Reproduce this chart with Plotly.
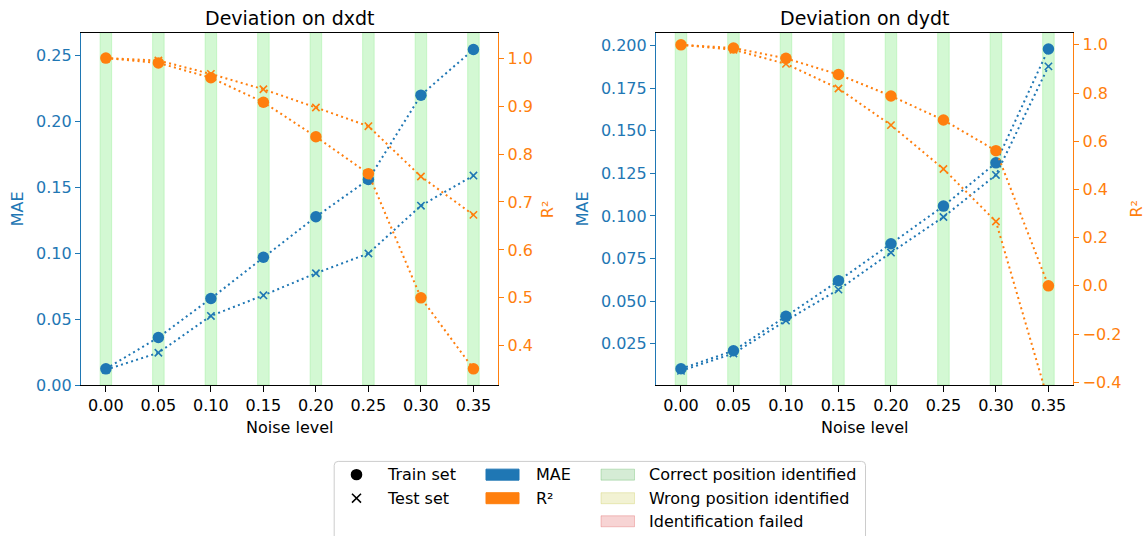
import plotly.graph_objects as go

W, H = 1148, 546

# ---- data -------------------------------------------------------------
noise = [0.00, 0.05, 0.10, 0.15, 0.20, 0.25, 0.30, 0.35]
noise_labels = ["0.00", "0.05", "0.10", "0.15", "0.20", "0.25", "0.30", "0.35"]

dxdt_mae_train = [0.0123, 0.0361, 0.0656, 0.0968, 0.1275, 0.1557, 0.2196, 0.2542]
dxdt_mae_test = [0.0116, 0.0245, 0.0524, 0.0680, 0.0847, 0.0997, 0.1359, 0.1587]
dxdt_r2_train = [1.000, 0.990, 0.959, 0.908, 0.836, 0.759, 0.500, 0.352]
dxdt_r2_test = [1.000, 0.995, 0.967, 0.935, 0.897, 0.858, 0.753, 0.673]
dxdt_status = ["correct", "correct", "correct", "correct",
               "correct", "correct", "correct", "correct"]

dydt_mae_train = [0.0102, 0.0208, 0.0410, 0.0619, 0.0837, 0.1058, 0.1312, 0.1981]
dydt_mae_test = [0.0090, 0.0192, 0.0385, 0.0567, 0.0785, 0.0994, 0.1241, 0.1879]
dydt_r2_train = [1.000, 0.987, 0.944, 0.877, 0.788, 0.688, 0.561, 0.000]
dydt_r2_test = [1.000, 0.980, 0.921, 0.819, 0.667, 0.485, 0.267, -0.480]
dydt_status = ["correct", "correct", "correct", "correct",
               "correct", "correct", "correct", "correct"]

# ---- styling ----------------------------------------------------------
BLUE = "#1f77b4"
ORANGE = "#ff7f0e"
FONT = "DejaVu Sans"
STATUS_FILL = {
    "correct": "rgba(144,238,144,0.40)",
    "wrong": "rgba(188,189,34,0.20)",
    "failed": "rgba(214,39,40,0.20)",
}
LEGEND_FILL = {
    "correct": ("rgba(44,160,44,0.20)", "rgba(44,160,44,0.25)"),
    "wrong": ("rgba(188,189,34,0.20)", "rgba(188,189,34,0.25)"),
    "failed": ("rgba(214,39,40,0.20)", "rgba(214,39,40,0.25)"),
}
DASH = "2px,3.3px"
BAND_HALF = 0.0055


def fx(px):
    return px / W


def fy(py):
    return 1 - py / H


# axes rectangles in pixels: (left, right, top, bottom)
PANELS = [
    dict(box=(81.3, 497.8, 33.3, 392.3), title="Deviation on dxdt",
         mae=(dxdt_mae_train, dxdt_mae_test), r2=(dxdt_r2_train, dxdt_r2_test),
         status=dxdt_status, mae_range=[0.0, 0.2669], mae_dtick=0.05, mae_fmt=".2f",
         r2_range=[0.318, 1.053], r2_dtick=0.1, mae_lab_x=18.3, r2_lab_x=548.3),
    dict(box=(656.4, 1072.8, 33.3, 392.3), title="Deviation on dydt",
         mae=(dydt_mae_train, dydt_mae_test), r2=(dydt_r2_train, dydt_r2_test),
         status=dydt_status, mae_range=[0.0006, 0.2077], mae_dtick=0.025, mae_fmt=".3f",
         r2_range=[-0.412, 1.0505], r2_dtick=0.2, mae_lab_x=583.3, r2_lab_x=1136.7),
]

fig = go.Figure()
shapes = []
annotations = []
layout_axes = {}

for i, p in enumerate(PANELS):
    L, R, T, B = p["box"]
    xa = "x" if i == 0 else f"x{i + 1}"
    ya = "y" if i == 0 else f"y{2 * i + 1}"
    ya2 = f"y{2 * i + 2}"
    xkey = "xaxis" if i == 0 else f"xaxis{i + 1}"
    ykey = "yaxis" if i == 0 else f"yaxis{2 * i + 1}"
    y2key = f"yaxis{2 * i + 2}"

    tickfont = dict(family=FONT, size=16, color="black")
    layout_axes[xkey] = dict(
        domain=[fx(L), fx(R)], anchor=ya, range=[-0.0234, 0.3732],
        tickmode="array", tickvals=noise, ticktext=noise_labels,
        ticks="outside", ticklen=5.5, tickwidth=1, tickcolor="black",
        showline=True, linecolor="black", linewidth=1, mirror=True,
        showgrid=False, zeroline=False, tickfont=tickfont,
    )
    layout_axes[ykey] = dict(
        domain=[fy(B), fy(T)], anchor=xa, range=p["mae_range"],
        tickmode="linear", tick0=0, dtick=p["mae_dtick"], tickformat=p["mae_fmt"],
        ticks="outside", ticklen=5.5, tickwidth=1, tickcolor=BLUE,
        showline=True, linecolor=BLUE, linewidth=1,
        showgrid=False, zeroline=False,
        tickfont=dict(family=FONT, size=16, color=BLUE),
    )
    layout_axes[y2key] = dict(
        overlaying=ya, anchor=xa, side="right", range=p["r2_range"],
        tickmode="linear", tick0=0, dtick=p["r2_dtick"], tickformat=".1f",
        ticks="outside", ticklen=5.5, tickwidth=1, tickcolor=ORANGE,
        showline=True, linecolor=ORANGE, linewidth=1,
        showgrid=False, zeroline=False,
        tickfont=dict(family=FONT, size=16, color=ORANGE),
    )

    # identification-status bands at each noise level
    for n, st in zip(noise, p["status"]):
        shapes.append(dict(
            type="rect", xref=xa, yref=f"{ya} domain",
            x0=n - BAND_HALF, x1=n + BAND_HALF, y0=0, y1=1,
            fillcolor=STATUS_FILL[st], line=dict(width=1, color=STATUS_FILL[st]),
            layer="below",
        ))

    # MAE (left axis) then R² (right axis); circles = train, crosses = test
    for vals, yref, color in ((p["mae"], ya, BLUE), (p["r2"], ya2, ORANGE)):
        train, test = vals
        fig.add_trace(go.Scatter(
            x=noise, y=train, xaxis=xa, yaxis=yref, mode="lines+markers",
            line=dict(color=color, width=2, dash=DASH),
            marker=dict(symbol="circle", size=11.5, color=color, line=dict(width=0)),
            showlegend=False, hoverinfo="skip",
        ))
        fig.add_trace(go.Scatter(
            x=noise, y=test, xaxis=xa, yaxis=yref, mode="lines+markers",
            line=dict(color=color, width=2, dash=DASH),
            marker=dict(symbol="x-thin", size=7.3, color=color,
                        line=dict(width=1.6, color=color)),
            showlegend=False, hoverinfo="skip",
        ))

    cx = (L + R) / 2
    cy = (T + B) / 2
    annotations.append(dict(
        text=p["title"], x=fx(cx), y=fy(18.5), xref="paper", yref="paper",
        xanchor="center", yanchor="middle", showarrow=False,
        font=dict(family=FONT, size=19, color="black"),
    ))
    annotations.append(dict(
        text="Noise level", x=fx(cx), y=fy(435), xref="paper", yref="paper",
        xanchor="center", yanchor="middle", showarrow=False,
        font=dict(family=FONT, size=16, color="black"),
    ))
    annotations.append(dict(
        text="MAE", x=fx(p["mae_lab_x"]), y=fy(cy), xref="paper", yref="paper",
        xanchor="center", yanchor="middle", textangle=-90, showarrow=False,
        font=dict(family=FONT, size=16, color=BLUE),
    ))
    annotations.append(dict(
        text="R²", x=fx(p["r2_lab_x"]), y=fy(cy), xref="paper", yref="paper",
        xanchor="center", yanchor="middle", textangle=-90, showarrow=False,
        font=dict(family=FONT, size=16, color=ORANGE),
    ))

# ---- legend (three columns, drawn in figure coordinates) ---------------
# the frame runs past the bottom edge, so only its top and sides are drawn
bx0, bx1, by0, rad = 334.2, 865.5, 470.0, 4.0
shapes.append(dict(type="rect", xref="paper", yref="paper",
                   x0=fx(bx0), x1=fx(bx1), y0=0, y1=fy(by0),
                   fillcolor="rgba(255,255,255,0.8)", line=dict(width=0), layer="above"))
frame_path = (
    f"M {fx(bx0)} 0 L {fx(bx0)} {fy(by0 + rad)} "
    f"Q {fx(bx0)} {fy(by0)} {fx(bx0 + rad)} {fy(by0)} "
    f"L {fx(bx1 - rad)} {fy(by0)} "
    f"Q {fx(bx1)} {fy(by0)} {fx(bx1)} {fy(by0 + rad)} L {fx(bx1)} 0"
)
shapes.append(dict(type="path", xref="paper", yref="paper", path=frame_path,
                   line=dict(color="#cccccc", width=1), layer="above"))

rows = [483.5, 507.5, 531.0]
legend_font = dict(family=FONT, size=16, color="black")


def legend_text(text, px, py):
    annotations.append(dict(text=text, x=fx(px), y=fy(py), xref="paper", yref="paper",
                            xanchor="left", yanchor="middle", showarrow=False,
                            font=legend_font))


# column 1: marker keys
mx, mr = 356.5, 5.8
shapes.append(dict(type="circle", xref="paper", yref="paper",
                   x0=fx(mx - mr), x1=fx(mx + mr), y0=fy(rows[0] + mr), y1=fy(rows[0] - mr),
                   fillcolor="black", line=dict(width=0), layer="above"))
xr = 4.5
shapes.append(dict(type="path", xref="paper", yref="paper",
                   path=(f"M {fx(mx - xr)} {fy(rows[1] - xr)} L {fx(mx + xr)} {fy(rows[1] + xr)} "
                         f"M {fx(mx - xr)} {fy(rows[1] + xr)} L {fx(mx + xr)} {fy(rows[1] - xr)}"),
                   line=dict(color="black", width=1.6), layer="above"))
legend_text("Train set", 385.0, rows[0])
legend_text("Test set", 385.0, rows[1])


def legend_patch(x0, x1, py, fill, edge):
    shapes.append(dict(type="rect", xref="paper", yref="paper",
                       x0=fx(x0), x1=fx(x1), y0=fy(py + 5.6), y1=fy(py - 5.6),
                       fillcolor=fill, line=dict(color=edge, width=1), layer="above"))


# column 2: metric colours
legend_patch(486.0, 519.0, rows[0], BLUE, BLUE)
legend_patch(486.0, 519.0, rows[1], ORANGE, ORANGE)
legend_text("MAE", 534.0, rows[0])
legend_text("R²", 534.0, rows[1])

# column 3: identification status
status_items = [("correct", "Correct position identified"),
                ("wrong", "Wrong position identified"),
                ("failed", "Identification failed")]
for (key, label), py in zip(status_items, rows):
    fill, edge = LEGEND_FILL[key]
    legend_patch(601.0, 634.5, py, fill, edge)
    legend_text(label, 647.3, py)

fig.update_layout(
    width=W, height=H,
    margin=dict(l=0, r=0, t=0, b=0),
    paper_bgcolor="white", plot_bgcolor="white",
    showlegend=False,
    shapes=shapes, annotations=annotations,
    font=dict(family=FONT, size=16, color="black"),
    **layout_axes,
)

fig.write_html("out.html", config={"displayModeBar": False})
